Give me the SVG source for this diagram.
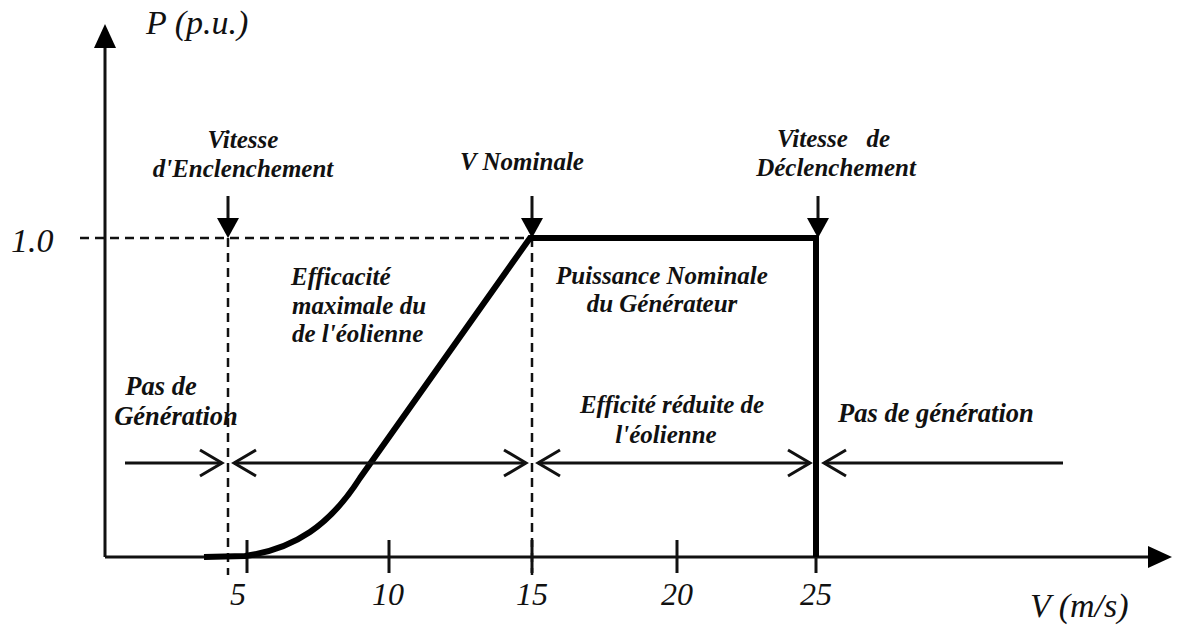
<svg xmlns="http://www.w3.org/2000/svg" width="1186" height="628" viewBox="0 0 1186 628">
<defs>
<style>
.lbl{font-family:"Liberation Serif","Times New Roman",serif;font-style:italic;font-weight:bold;font-size:25px;fill:#111}
.lbl2{font-family:"Liberation Serif","Times New Roman",serif;font-style:italic;font-weight:bold;font-size:26.5px;fill:#111}
.ax{font-family:"Liberation Serif","Times New Roman",serif;font-style:italic;font-size:34px;fill:#111}
.num{font-family:"Liberation Serif","Times New Roman",serif;font-style:italic;font-size:32px;fill:#111}
.dash{stroke:#111;stroke-width:2.5;stroke-dasharray:9,6;fill:none}
.ln{stroke:#111;stroke-width:3;fill:none}
.thk{stroke:#000;stroke-width:6;fill:none;stroke-linejoin:miter}
.open{stroke:#111;stroke-width:3;fill:none}
</style>
</defs>
<g id="axes">
<line class="ln" x1="105" y1="557" x2="105" y2="45"/>
<path d="M94,48 L105,24 L116,48 Z" fill="#000"/>
<line class="ln" x1="105" y1="557" x2="1150" y2="557"/>
<path d="M1148,546 L1172,557 L1148,568 Z" fill="#000"/>
<g class="ln">
<line x1="247" y1="540" x2="247" y2="573"/>
<line x1="389" y1="540" x2="389" y2="573"/>
<line x1="532" y1="540" x2="532" y2="573"/>
<line x1="677" y1="540" x2="677" y2="573"/>
<line x1="816" y1="540" x2="816" y2="573"/>
</g>
<g class="num" text-anchor="middle">
<text x="238" y="605">5</text>
<text x="388" y="605">10</text>
<text x="532" y="605">15</text>
<text x="677" y="605">20</text>
<text x="816" y="605">25</text>
</g>
<text class="ax" x="1030" y="617">V (m/s)</text>
<text class="ax" x="146" y="34">P (p.u.)</text>
<text class="ax" x="11" y="252">1.0</text>
</g>
<g id="connectors">
<line class="dash" x1="80" y1="238" x2="530" y2="238"/>
<line class="dash" x1="228" y1="238" x2="228" y2="575"/>
<line class="dash" x1="532" y1="238" x2="532" y2="575"/>
<path class="thk" d="M204,557 L245,556 C295,549 330,525 360,478 L530,238 L816,238 L816,557"/>
<g fill="#000">
<line class="ln" x1="228" y1="196" x2="228" y2="220"/>
<path d="M217,218 L239,218 L228,238 Z"/>
<line class="ln" x1="532" y1="196" x2="532" y2="220"/>
<path d="M521,218 L543,218 L532,238 Z"/>
<line class="ln" x1="818" y1="196" x2="818" y2="220"/>
<path d="M807,218 L829,218 L818,238 Z"/>
</g>
<line class="ln" x1="125" y1="463" x2="222" y2="463"/>
<path class="open" d="M200,450 L222,463 L200,476"/>
<line class="ln" x1="234" y1="463" x2="526" y2="463"/>
<path class="open" d="M256,450 L234,463 L256,476"/>
<path class="open" d="M504,450 L526,463 L504,476"/>
<line class="ln" x1="538" y1="463" x2="810" y2="463"/>
<path class="open" d="M560,450 L538,463 L560,476"/>
<path class="open" d="M788,450 L810,463 L788,476"/>
<line class="ln" x1="824" y1="463" x2="1063" y2="463"/>
<path class="open" d="M846,450 L824,463 L846,476"/>
</g>
<g id="n-enclenchement" class="lbl" text-anchor="middle">
<text x="243" y="148">Vitesse</text>
<text x="243" y="177">d'Enclenchement</text>
</g>
<g id="n-nominale" class="lbl" text-anchor="middle">
<text x="522" y="170">V Nominale</text>
</g>
<g id="n-declenchement" class="lbl">
<text x="777" y="147" xml:space="preserve">Vitesse   de</text>
<text x="836" y="176" text-anchor="middle">Déclenchement</text>
</g>
<g id="n-efficacite" class="lbl">
<text x="291" y="285">Efficacité</text>
<text x="292" y="314">maximale du</text>
<text x="292" y="342">de l'éolienne</text>
</g>
<g id="n-puissance" class="lbl" text-anchor="middle">
<text x="662" y="284">Puissance Nominale</text>
<text x="662" y="312">du Générateur</text>
</g>
<g id="n-pasgen1" class="lbl2" text-anchor="middle">
<text x="161" y="395">Pas de</text>
<text x="176" y="425">Génération</text>
</g>
<g id="n-reduite" class="lbl" text-anchor="middle">
<text x="672" y="413">Efficité réduite de</text>
<text x="666" y="443">l'éolienne</text>
</g>
<g id="n-pasgen2" class="lbl2">
<text x="838" y="422">Pas de génération</text>
</g>
</svg>
